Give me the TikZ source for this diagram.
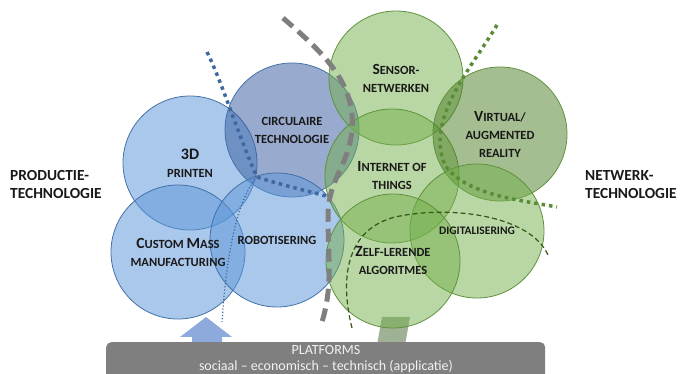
\documentclass[tikz,border=0pt]{standalone}
\usepackage{fontspec}
\setmainfont{Carlito}
\definecolor{bluefill}{RGB}{95,151,217}
\definecolor{blueedge}{RGB}{65,113,166}
\definecolor{circfill}{RGB}{60,95,160}
\definecolor{greenfill}{RGB}{115,175,75}
\definecolor{greenedge}{RGB}{95,145,60}
\definecolor{vrfill}{RGB}{75,125,35}
\definecolor{dotblue}{RGB}{62,105,160}
\definecolor{dotgreen}{RGB}{90,140,55}
\definecolor{dashgreen}{RGB}{55,85,25}
\definecolor{platgrey}{RGB}{127,127,127}
\definecolor{uparrow}{RGB}{142,170,220}
\definecolor{feedarrow}{RGB}{160,178,150}
\newcommand\initcap[1]{{\fontsize{15.5}{18}\selectfont #1}}
\begin{document}
\begin{tikzpicture}[x=1pt,y=-1pt,
  ball/.style={circle, minimum size=134pt, inner sep=0pt, line width=0.8pt, fill opacity=0.53},
  blueball/.style={ball, draw=blueedge, fill=bluefill},
  greenball/.style={ball, draw=greenedge, fill=greenfill, fill opacity=0.5},
  balltext/.style={font=\bfseries\fontsize{12.5}{18}\selectfont, align=center, text=black!90, inner sep=0pt},
  sidetext/.style={font=\bfseries\fontsize{15.4}{18}\selectfont, align=left, text=black!90, inner sep=0pt, anchor=west},
]
\useasboundingbox (0,0) rectangle (681,374);

% block arrows feeding up from the platform bar
\fill[uparrow] (192,345) -- (192,337) -- (180,337) -- (206,317) -- (232,337) -- (222,337) -- (222,345) -- cycle;
\fill[feedarrow] (377,345) -- (382,317) -- (410,317) -- (405,345) -- cycle;

% production technology circles
\node[blueball] (print) at (190,163) {};
\node[blueball] (custom) at (178,252) {};
\node[ball, draw=blueedge, fill=circfill] (circ) at (292,130) {};
\node[blueball] (robot) at (277,240) {};

% network technology circles
\node[greenball] (sensor) at (396,78) {};
\node[greenball] (iot) at (392,176) {};
\node[greenball, fill=vrfill] (vr) at (500,134) {};
\node[greenball] (digital) at (477,231) {};
\node[greenball] (zelf) at (393,261) {};

% circle labels
\node[balltext] at (print.center) {{\fontsize{16}{18}\selectfont 3D}\\PRINTEN};
\node[balltext] at (circ.center) {CIRCULAIRE\\TECHNOLOGIE};
\node[balltext] at (custom.center) {\initcap{C}USTOM \initcap{M}ASS\\MANUFACTURING};
\node[balltext] at (robot.center) {ROBOTISERING};
\node[balltext] at (sensor.center) {\initcap{S}ENSOR-\\NETWERKEN};
\node[balltext] at (vr.center) {\initcap{V}IRTUAL/\\AUGMENTED\\REALITY};
\node[balltext] at (iot.center) {\initcap{I}NTERNET OF\\THINGS};
\node[balltext, font=\bfseries\fontsize{11.5}{18}\selectfont] at (digital.center) {DIGITALISERING};
\node[balltext] at (zelf.center) {\initcap{Z}ELF-LERENDE\\ALGORITMES};

% boundary lines
\draw[dotblue, line width=3.5pt, dash pattern=on 3.5pt off 4pt]
  (207,52) .. controls (222,82) and (240,140) .. (257,177)
  .. controls (278,184) and (300,189) .. (326,196);
\draw[dotblue, line width=1.2pt, dotted]
  (257,177) .. controls (236,200) and (226,260) .. (222,322);
\draw[platgrey, line width=5pt, dash pattern=on 13pt off 7pt]
  (283,18) .. controls (322,52) and (356,82) .. (352,130)
  .. controls (349,165) and (328,180) .. (328,215)
  .. controls (328,260) and (333,285) .. (322,322);
\draw[dotgreen, line width=3.5pt, dash pattern=on 3.5pt off 4pt]
  (497,25) .. controls (470,70) and (425,120) .. (445,165)
  .. controls (465,195) and (520,200) .. (557,207);
\draw[dashgreen, line width=1.2pt, dash pattern=on 5pt off 3pt]
  (352,328) .. controls (340,280) and (345,230) .. (395,217)
  .. controls (450,205) and (530,215) .. (548,255);

% platform bar
\node[fill=platgrey, rounded corners=5pt, minimum width=439pt, minimum height=44pt, anchor=north west, inner sep=0pt] (plat) at (106,342) {};
\node[text=white!95!black, font=\fontsize{14}{16}\selectfont, align=center, inner sep=0pt] at (326,359)
  {PLATFORMS\\sociaal -- economisch -- technisch (applicatie)};

% side labels
\node[sidetext] (prod) at (10,185) {PRODUCTIE-\\TECHNOLOGIE};
\node[sidetext] (netw) at (585,185) {NETWERK-\\TECHNOLOGIE};
\end{tikzpicture}
\end{document}
